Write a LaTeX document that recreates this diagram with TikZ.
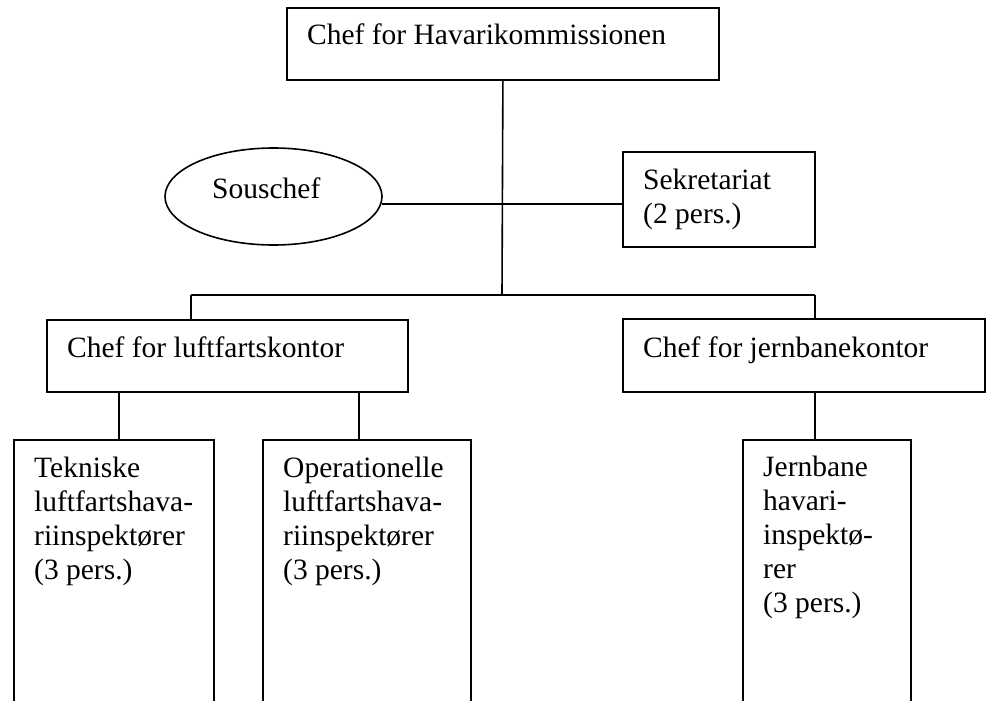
\documentclass[tikz,border=0pt]{standalone}
\usepackage{fontspec}
\setmainfont{Liberation Serif}
\usetikzlibrary{shapes.geometric}
\begin{document}
\begin{tikzpicture}[x=1pt,y=-1pt,
  box/.style={draw, line width=1.8pt, rectangle, inner sep=0pt, anchor=north west},
  oval/.style={draw, line width=1.6pt, ellipse, inner sep=0pt},
  lbl/.style={anchor=base west, inner sep=0pt, align=left, font=\fontsize{29.5}{34}\selectfont},
  conn/.style={line width=1.6pt}]
\clip (0,0) rectangle (989,701);
\fill[white] (0,0) rectangle (989,701);
% boxes
\node[box, minimum width=432pt, minimum height=72pt] (top) at (286,7) {};
\node[oval, minimum width=217pt, minimum height=97pt] (sous) at (273.5,196.5) {};
\node[box, minimum width=192pt, minimum height=95pt] (sek) at (622,151) {};
\node[box, minimum width=361pt, minimum height=72pt] (luft) at (46,319) {};
\node[box, minimum width=362pt, minimum height=73pt] (jern) at (622,318) {};
\node[box, minimum width=200pt, minimum height=300pt] (tek) at (13,439) {};
\node[box, minimum width=208pt, minimum height=300pt] (ope) at (262,439) {};
\node[box, minimum width=168pt, minimum height=300pt] (jbl) at (742,439) {};
% texts (multi-line nodes anchored at the baseline of their last line)
\node[lbl] (ttop) at (307,45) {Chef for Havarikommissionen};
\node[lbl] (tsous) at (212,198) {Souschef};
\node[lbl] (tsek) at (643,223) {Sekretariat\\(2 pers.)};
\node[lbl] (tluft) at (67,357) {Chef for luftfartskontor};
\node[lbl] (tjern) at (643,357) {Chef for jernbanekontor};
\node[lbl] (ttek) at (34,579) {Tekniske\\luftfartshava-\\riinspektører\\(3 pers.)};
\node[lbl] (tope) at (283,579) {Operationelle\\luftfartshava-\\riinspektører\\(3 pers.)};
\node[lbl] (tjbl) at (763,612) {Jernbane\\havari-\\inspektø-\\rer\\(3 pers.)};
% connectors
\coordinate (cM) at (502,295);
\coordinate (cL) at (191,295);
\coordinate (cR) at (815,295);
\draw[conn] (top.south) -- (cM);
\draw[conn] (cL) -- (cR);
\draw[conn] (cL) -- (cL |- luft.north);
\draw[conn] (cR) -- (cR |- jern.north);
\draw[conn] (sous.-4) -- (sous.-4 -| sek.west);
\draw[conn] ([xshift=5pt]tek.north) -- ([xshift=5pt]tek.north |- luft.south);
\draw[conn] ([xshift=-8pt]ope.north) -- ([xshift=-8pt]ope.north |- luft.south);
\draw[conn] (cR |- jern.south) -- (cR |- jbl.north);
\end{tikzpicture}
\end{document}
